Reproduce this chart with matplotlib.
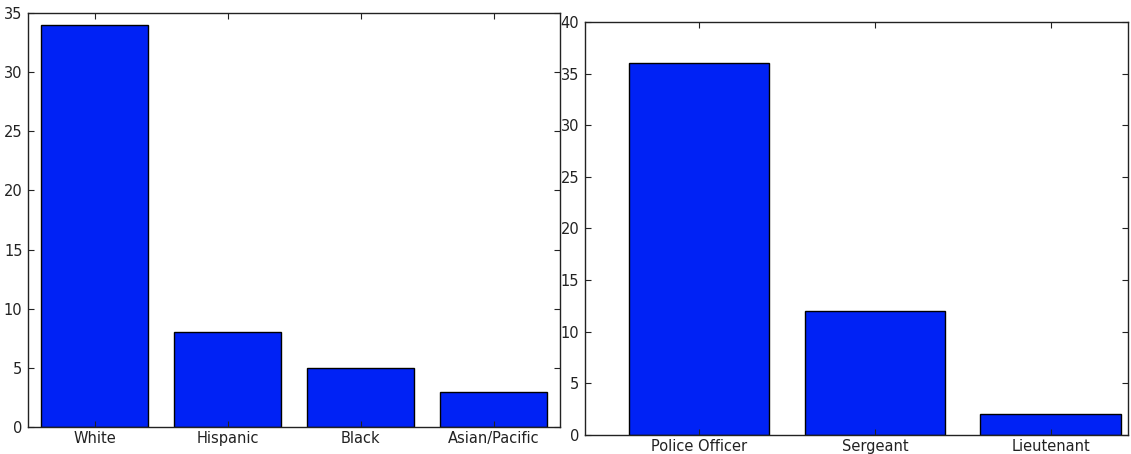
import matplotlib
matplotlib.use("Agg")
import matplotlib.pyplot as plt

race_labels = ["White", "Hispanic", "Black", "Asian/Pacific"]
race_counts = [34, 8, 5, 3]

rank_labels = ["Police Officer", "Sergeant", "Lieutenant"]
rank_counts = [36, 12, 2]

bar_color = "#0022f5"
ink = "#222222"

plt.rcParams.update({
    "font.family": "DejaVu Sans",
    "font.size": 10.5,
    "xtick.direction": "in",
    "ytick.direction": "in",
    "xtick.top": True,
    "ytick.right": True,
    "xtick.major.size": 4,
    "ytick.major.size": 4,
    "axes.edgecolor": ink,
    "xtick.color": ink,
    "ytick.color": ink,
    "axes.linewidth": 1.0,
})

fig = plt.figure(figsize=(11.31, 4.54), dpi=100)
ax1 = fig.add_axes([0.0248, 0.0595, 0.4704, 0.9119])
ax2 = fig.add_axes([0.5172, 0.0419, 0.4801, 0.9096])

x1 = range(len(race_labels))
ax1.bar(x1, race_counts, width=0.8, color=bar_color, edgecolor="black", linewidth=1.0)
ax1.set_xticks(list(x1))
ax1.set_xticklabels(race_labels)
ax1.set_xlim(-0.5, 3.5)
ax1.set_ylim(0, 35)
ax1.set_yticks(range(0, 36, 5))

x2 = range(len(rank_labels))
ax2.bar(x2, rank_counts, width=0.8, color=bar_color, edgecolor="black", linewidth=1.0)
ax2.set_xticks(list(x2))
ax2.set_xticklabels(rank_labels)
ax2.set_xlim(-0.65, 2.44)
ax2.set_ylim(0, 40)
ax2.set_yticks(range(0, 41, 5))

for ax in (ax1, ax2):
    ax.tick_params(axis="x", pad=3)
    ax.tick_params(axis="y", pad=4)

fig.savefig("out.png", dpi=100)
